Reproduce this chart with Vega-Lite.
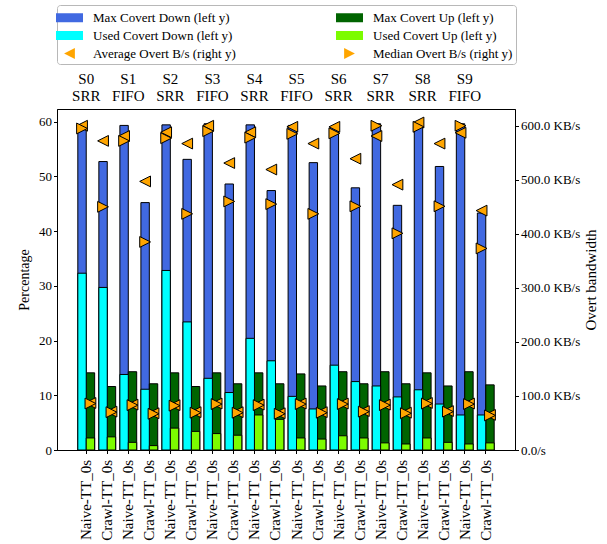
{
  "$schema": "https://vega.github.io/schema/vega-lite/v6.json",
  "width": 458,
  "height": 341,
  "autosize": "none",
  "padding": {"left": 57, "top": 109, "right": 92, "bottom": 94},
  "background": "white",
  "config": {
    "font": "Liberation Serif, Times New Roman, DejaVu Serif, serif",
    "view": {"stroke": "black", "strokeWidth": 1},
    "axis": {"labelFont": "Liberation Serif, Times New Roman, DejaVu Serif, serif", "titleFont": "Liberation Serif, Times New Roman, DejaVu Serif, serif", "labelColor": "black", "titleColor": "black", "domainColor": "black", "tickColor": "black", "titleFontWeight": "normal", "grid": false, "tickSize": 3.5, "labelOverlap": false}
  },
  "datasets": {
    "bars": [
      {"cat": "S0 SRR|Naive-TT_0s", "dir": "Down", "series": "Max Covert Down (left y)", "value": 59.4},
      {"cat": "S0 SRR|Crawl-TT_0s", "dir": "Down", "series": "Max Covert Down (left y)", "value": 52.7},
      {"cat": "S1 FIFO|Naive-TT_0s", "dir": "Down", "series": "Max Covert Down (left y)", "value": 59.3},
      {"cat": "S1 FIFO|Crawl-TT_0s", "dir": "Down", "series": "Max Covert Down (left y)", "value": 45.2},
      {"cat": "S2 SRR|Naive-TT_0s", "dir": "Down", "series": "Max Covert Down (left y)", "value": 59.4},
      {"cat": "S2 SRR|Crawl-TT_0s", "dir": "Down", "series": "Max Covert Down (left y)", "value": 53.1},
      {"cat": "S3 FIFO|Naive-TT_0s", "dir": "Down", "series": "Max Covert Down (left y)", "value": 59.6},
      {"cat": "S3 FIFO|Crawl-TT_0s", "dir": "Down", "series": "Max Covert Down (left y)", "value": 48.6},
      {"cat": "S4 SRR|Naive-TT_0s", "dir": "Down", "series": "Max Covert Down (left y)", "value": 59.4},
      {"cat": "S4 SRR|Crawl-TT_0s", "dir": "Down", "series": "Max Covert Down (left y)", "value": 47.4},
      {"cat": "S5 FIFO|Naive-TT_0s", "dir": "Down", "series": "Max Covert Down (left y)", "value": 59.3},
      {"cat": "S5 FIFO|Crawl-TT_0s", "dir": "Down", "series": "Max Covert Down (left y)", "value": 52.5},
      {"cat": "S6 SRR|Naive-TT_0s", "dir": "Down", "series": "Max Covert Down (left y)", "value": 59.0},
      {"cat": "S6 SRR|Crawl-TT_0s", "dir": "Down", "series": "Max Covert Down (left y)", "value": 47.9},
      {"cat": "S7 SRR|Naive-TT_0s", "dir": "Down", "series": "Max Covert Down (left y)", "value": 59.6},
      {"cat": "S7 SRR|Crawl-TT_0s", "dir": "Down", "series": "Max Covert Down (left y)", "value": 44.7},
      {"cat": "S8 SRR|Naive-TT_0s", "dir": "Down", "series": "Max Covert Down (left y)", "value": 59.8},
      {"cat": "S8 SRR|Crawl-TT_0s", "dir": "Down", "series": "Max Covert Down (left y)", "value": 51.8},
      {"cat": "S9 FIFO|Naive-TT_0s", "dir": "Down", "series": "Max Covert Down (left y)", "value": 59.6},
      {"cat": "S9 FIFO|Crawl-TT_0s", "dir": "Down", "series": "Max Covert Down (left y)", "value": 43.3},
      {"cat": "S0 SRR|Naive-TT_0s", "dir": "Up", "series": "Max Covert Up (left y)", "value": 14.1},
      {"cat": "S0 SRR|Crawl-TT_0s", "dir": "Up", "series": "Max Covert Up (left y)", "value": 11.6},
      {"cat": "S1 FIFO|Naive-TT_0s", "dir": "Up", "series": "Max Covert Up (left y)", "value": 14.3},
      {"cat": "S1 FIFO|Crawl-TT_0s", "dir": "Up", "series": "Max Covert Up (left y)", "value": 12.1},
      {"cat": "S2 SRR|Naive-TT_0s", "dir": "Up", "series": "Max Covert Up (left y)", "value": 14.1},
      {"cat": "S2 SRR|Crawl-TT_0s", "dir": "Up", "series": "Max Covert Up (left y)", "value": 11.6},
      {"cat": "S3 FIFO|Naive-TT_0s", "dir": "Up", "series": "Max Covert Up (left y)", "value": 14.1},
      {"cat": "S3 FIFO|Crawl-TT_0s", "dir": "Up", "series": "Max Covert Up (left y)", "value": 12.1},
      {"cat": "S4 SRR|Naive-TT_0s", "dir": "Up", "series": "Max Covert Up (left y)", "value": 14.1},
      {"cat": "S4 SRR|Crawl-TT_0s", "dir": "Up", "series": "Max Covert Up (left y)", "value": 12.1},
      {"cat": "S5 FIFO|Naive-TT_0s", "dir": "Up", "series": "Max Covert Up (left y)", "value": 13.9},
      {"cat": "S5 FIFO|Crawl-TT_0s", "dir": "Up", "series": "Max Covert Up (left y)", "value": 11.7},
      {"cat": "S6 SRR|Naive-TT_0s", "dir": "Up", "series": "Max Covert Up (left y)", "value": 14.3},
      {"cat": "S6 SRR|Crawl-TT_0s", "dir": "Up", "series": "Max Covert Up (left y)", "value": 12.1},
      {"cat": "S7 SRR|Naive-TT_0s", "dir": "Up", "series": "Max Covert Up (left y)", "value": 14.3},
      {"cat": "S7 SRR|Crawl-TT_0s", "dir": "Up", "series": "Max Covert Up (left y)", "value": 12.1},
      {"cat": "S8 SRR|Naive-TT_0s", "dir": "Up", "series": "Max Covert Up (left y)", "value": 14.1},
      {"cat": "S8 SRR|Crawl-TT_0s", "dir": "Up", "series": "Max Covert Up (left y)", "value": 11.7},
      {"cat": "S9 FIFO|Naive-TT_0s", "dir": "Up", "series": "Max Covert Up (left y)", "value": 14.3},
      {"cat": "S9 FIFO|Crawl-TT_0s", "dir": "Up", "series": "Max Covert Up (left y)", "value": 11.9},
      {"cat": "S0 SRR|Naive-TT_0s", "dir": "Down", "series": "Used Covert Down (left y)", "value": 32.3},
      {"cat": "S0 SRR|Crawl-TT_0s", "dir": "Down", "series": "Used Covert Down (left y)", "value": 29.7},
      {"cat": "S1 FIFO|Naive-TT_0s", "dir": "Down", "series": "Used Covert Down (left y)", "value": 13.8},
      {"cat": "S1 FIFO|Crawl-TT_0s", "dir": "Down", "series": "Used Covert Down (left y)", "value": 11.1},
      {"cat": "S2 SRR|Naive-TT_0s", "dir": "Down", "series": "Used Covert Down (left y)", "value": 32.8},
      {"cat": "S2 SRR|Crawl-TT_0s", "dir": "Down", "series": "Used Covert Down (left y)", "value": 23.4},
      {"cat": "S3 FIFO|Naive-TT_0s", "dir": "Down", "series": "Used Covert Down (left y)", "value": 13.1},
      {"cat": "S3 FIFO|Crawl-TT_0s", "dir": "Down", "series": "Used Covert Down (left y)", "value": 10.5},
      {"cat": "S4 SRR|Naive-TT_0s", "dir": "Down", "series": "Used Covert Down (left y)", "value": 20.4},
      {"cat": "S4 SRR|Crawl-TT_0s", "dir": "Down", "series": "Used Covert Down (left y)", "value": 16.3},
      {"cat": "S5 FIFO|Naive-TT_0s", "dir": "Down", "series": "Used Covert Down (left y)", "value": 9.8},
      {"cat": "S5 FIFO|Crawl-TT_0s", "dir": "Down", "series": "Used Covert Down (left y)", "value": 7.5},
      {"cat": "S6 SRR|Naive-TT_0s", "dir": "Down", "series": "Used Covert Down (left y)", "value": 15.5},
      {"cat": "S6 SRR|Crawl-TT_0s", "dir": "Down", "series": "Used Covert Down (left y)", "value": 12.5},
      {"cat": "S7 SRR|Naive-TT_0s", "dir": "Down", "series": "Used Covert Down (left y)", "value": 11.7},
      {"cat": "S7 SRR|Crawl-TT_0s", "dir": "Down", "series": "Used Covert Down (left y)", "value": 9.7},
      {"cat": "S8 SRR|Naive-TT_0s", "dir": "Down", "series": "Used Covert Down (left y)", "value": 11.0},
      {"cat": "S8 SRR|Crawl-TT_0s", "dir": "Down", "series": "Used Covert Down (left y)", "value": 8.4},
      {"cat": "S9 FIFO|Naive-TT_0s", "dir": "Down", "series": "Used Covert Down (left y)", "value": 6.4},
      {"cat": "S9 FIFO|Crawl-TT_0s", "dir": "Down", "series": "Used Covert Down (left y)", "value": 6.4},
      {"cat": "S0 SRR|Naive-TT_0s", "dir": "Up", "series": "Used Covert Up (left y)", "value": 2.2},
      {"cat": "S0 SRR|Crawl-TT_0s", "dir": "Up", "series": "Used Covert Up (left y)", "value": 2.4},
      {"cat": "S1 FIFO|Naive-TT_0s", "dir": "Up", "series": "Used Covert Up (left y)", "value": 1.4},
      {"cat": "S1 FIFO|Crawl-TT_0s", "dir": "Up", "series": "Used Covert Up (left y)", "value": 0.8},
      {"cat": "S2 SRR|Naive-TT_0s", "dir": "Up", "series": "Used Covert Up (left y)", "value": 4.0},
      {"cat": "S2 SRR|Crawl-TT_0s", "dir": "Up", "series": "Used Covert Up (left y)", "value": 3.4},
      {"cat": "S3 FIFO|Naive-TT_0s", "dir": "Up", "series": "Used Covert Up (left y)", "value": 3.0},
      {"cat": "S3 FIFO|Crawl-TT_0s", "dir": "Up", "series": "Used Covert Up (left y)", "value": 2.7},
      {"cat": "S4 SRR|Naive-TT_0s", "dir": "Up", "series": "Used Covert Up (left y)", "value": 6.4},
      {"cat": "S4 SRR|Crawl-TT_0s", "dir": "Up", "series": "Used Covert Up (left y)", "value": 5.6},
      {"cat": "S5 FIFO|Naive-TT_0s", "dir": "Up", "series": "Used Covert Up (left y)", "value": 2.2},
      {"cat": "S5 FIFO|Crawl-TT_0s", "dir": "Up", "series": "Used Covert Up (left y)", "value": 2.0},
      {"cat": "S6 SRR|Naive-TT_0s", "dir": "Up", "series": "Used Covert Up (left y)", "value": 2.6},
      {"cat": "S6 SRR|Crawl-TT_0s", "dir": "Up", "series": "Used Covert Up (left y)", "value": 2.2},
      {"cat": "S7 SRR|Naive-TT_0s", "dir": "Up", "series": "Used Covert Up (left y)", "value": 1.3},
      {"cat": "S7 SRR|Crawl-TT_0s", "dir": "Up", "series": "Used Covert Up (left y)", "value": 1.1},
      {"cat": "S8 SRR|Naive-TT_0s", "dir": "Up", "series": "Used Covert Up (left y)", "value": 2.2},
      {"cat": "S8 SRR|Crawl-TT_0s", "dir": "Up", "series": "Used Covert Up (left y)", "value": 1.4},
      {"cat": "S9 FIFO|Naive-TT_0s", "dir": "Up", "series": "Used Covert Up (left y)", "value": 1.1},
      {"cat": "S9 FIFO|Crawl-TT_0s", "dir": "Up", "series": "Used Covert Up (left y)", "value": 1.3}
    ],
    "markers": [
      {"cat": "S0 SRR|Naive-TT_0s", "dir": "Down", "series": "Average Overt B/s (right y)", "value": 600},
      {"cat": "S0 SRR|Crawl-TT_0s", "dir": "Down", "series": "Average Overt B/s (right y)", "value": 572},
      {"cat": "S1 FIFO|Naive-TT_0s", "dir": "Down", "series": "Average Overt B/s (right y)", "value": 581},
      {"cat": "S1 FIFO|Crawl-TT_0s", "dir": "Down", "series": "Average Overt B/s (right y)", "value": 497},
      {"cat": "S2 SRR|Naive-TT_0s", "dir": "Down", "series": "Average Overt B/s (right y)", "value": 588},
      {"cat": "S2 SRR|Crawl-TT_0s", "dir": "Down", "series": "Average Overt B/s (right y)", "value": 567},
      {"cat": "S3 FIFO|Naive-TT_0s", "dir": "Down", "series": "Average Overt B/s (right y)", "value": 600},
      {"cat": "S3 FIFO|Crawl-TT_0s", "dir": "Down", "series": "Average Overt B/s (right y)", "value": 531},
      {"cat": "S4 SRR|Naive-TT_0s", "dir": "Down", "series": "Average Overt B/s (right y)", "value": 588},
      {"cat": "S4 SRR|Crawl-TT_0s", "dir": "Down", "series": "Average Overt B/s (right y)", "value": 519},
      {"cat": "S5 FIFO|Naive-TT_0s", "dir": "Down", "series": "Average Overt B/s (right y)", "value": 598},
      {"cat": "S5 FIFO|Crawl-TT_0s", "dir": "Down", "series": "Average Overt B/s (right y)", "value": 567},
      {"cat": "S6 SRR|Naive-TT_0s", "dir": "Down", "series": "Average Overt B/s (right y)", "value": 598},
      {"cat": "S6 SRR|Crawl-TT_0s", "dir": "Down", "series": "Average Overt B/s (right y)", "value": 539},
      {"cat": "S7 SRR|Naive-TT_0s", "dir": "Down", "series": "Average Overt B/s (right y)", "value": 581},
      {"cat": "S7 SRR|Crawl-TT_0s", "dir": "Down", "series": "Average Overt B/s (right y)", "value": 491},
      {"cat": "S8 SRR|Naive-TT_0s", "dir": "Down", "series": "Average Overt B/s (right y)", "value": 606},
      {"cat": "S8 SRR|Crawl-TT_0s", "dir": "Down", "series": "Average Overt B/s (right y)", "value": 567},
      {"cat": "S9 FIFO|Naive-TT_0s", "dir": "Down", "series": "Average Overt B/s (right y)", "value": 587},
      {"cat": "S9 FIFO|Crawl-TT_0s", "dir": "Down", "series": "Average Overt B/s (right y)", "value": 443},
      {"cat": "S0 SRR|Naive-TT_0s", "dir": "Up", "series": "Average Overt B/s (right y)", "value": 87},
      {"cat": "S0 SRR|Crawl-TT_0s", "dir": "Up", "series": "Average Overt B/s (right y)", "value": 71},
      {"cat": "S1 FIFO|Naive-TT_0s", "dir": "Up", "series": "Average Overt B/s (right y)", "value": 84},
      {"cat": "S1 FIFO|Crawl-TT_0s", "dir": "Up", "series": "Average Overt B/s (right y)", "value": 68},
      {"cat": "S2 SRR|Naive-TT_0s", "dir": "Up", "series": "Average Overt B/s (right y)", "value": 83},
      {"cat": "S2 SRR|Crawl-TT_0s", "dir": "Up", "series": "Average Overt B/s (right y)", "value": 70},
      {"cat": "S3 FIFO|Naive-TT_0s", "dir": "Up", "series": "Average Overt B/s (right y)", "value": 86},
      {"cat": "S3 FIFO|Crawl-TT_0s", "dir": "Up", "series": "Average Overt B/s (right y)", "value": 70},
      {"cat": "S4 SRR|Naive-TT_0s", "dir": "Up", "series": "Average Overt B/s (right y)", "value": 84},
      {"cat": "S4 SRR|Crawl-TT_0s", "dir": "Up", "series": "Average Overt B/s (right y)", "value": 68},
      {"cat": "S5 FIFO|Naive-TT_0s", "dir": "Up", "series": "Average Overt B/s (right y)", "value": 86},
      {"cat": "S5 FIFO|Crawl-TT_0s", "dir": "Up", "series": "Average Overt B/s (right y)", "value": 70},
      {"cat": "S6 SRR|Naive-TT_0s", "dir": "Up", "series": "Average Overt B/s (right y)", "value": 86},
      {"cat": "S6 SRR|Crawl-TT_0s", "dir": "Up", "series": "Average Overt B/s (right y)", "value": 72},
      {"cat": "S7 SRR|Naive-TT_0s", "dir": "Up", "series": "Average Overt B/s (right y)", "value": 84},
      {"cat": "S7 SRR|Crawl-TT_0s", "dir": "Up", "series": "Average Overt B/s (right y)", "value": 69},
      {"cat": "S8 SRR|Naive-TT_0s", "dir": "Up", "series": "Average Overt B/s (right y)", "value": 87},
      {"cat": "S8 SRR|Crawl-TT_0s", "dir": "Up", "series": "Average Overt B/s (right y)", "value": 72},
      {"cat": "S9 FIFO|Naive-TT_0s", "dir": "Up", "series": "Average Overt B/s (right y)", "value": 86},
      {"cat": "S9 FIFO|Crawl-TT_0s", "dir": "Up", "series": "Average Overt B/s (right y)", "value": 65},
      {"cat": "S0 SRR|Naive-TT_0s", "dir": "Down", "series": "Median Overt B/s (right y)", "value": 595},
      {"cat": "S0 SRR|Crawl-TT_0s", "dir": "Down", "series": "Median Overt B/s (right y)", "value": 450},
      {"cat": "S1 FIFO|Naive-TT_0s", "dir": "Down", "series": "Median Overt B/s (right y)", "value": 572},
      {"cat": "S1 FIFO|Crawl-TT_0s", "dir": "Down", "series": "Median Overt B/s (right y)", "value": 385},
      {"cat": "S2 SRR|Naive-TT_0s", "dir": "Down", "series": "Median Overt B/s (right y)", "value": 577},
      {"cat": "S2 SRR|Crawl-TT_0s", "dir": "Down", "series": "Median Overt B/s (right y)", "value": 437},
      {"cat": "S3 FIFO|Naive-TT_0s", "dir": "Down", "series": "Median Overt B/s (right y)", "value": 590},
      {"cat": "S3 FIFO|Crawl-TT_0s", "dir": "Down", "series": "Median Overt B/s (right y)", "value": 460},
      {"cat": "S4 SRR|Naive-TT_0s", "dir": "Down", "series": "Median Overt B/s (right y)", "value": 578},
      {"cat": "S4 SRR|Crawl-TT_0s", "dir": "Down", "series": "Median Overt B/s (right y)", "value": 455},
      {"cat": "S5 FIFO|Naive-TT_0s", "dir": "Down", "series": "Median Overt B/s (right y)", "value": 585},
      {"cat": "S5 FIFO|Crawl-TT_0s", "dir": "Down", "series": "Median Overt B/s (right y)", "value": 437},
      {"cat": "S6 SRR|Naive-TT_0s", "dir": "Down", "series": "Median Overt B/s (right y)", "value": 586},
      {"cat": "S6 SRR|Crawl-TT_0s", "dir": "Down", "series": "Median Overt B/s (right y)", "value": 451},
      {"cat": "S7 SRR|Naive-TT_0s", "dir": "Down", "series": "Median Overt B/s (right y)", "value": 600},
      {"cat": "S7 SRR|Crawl-TT_0s", "dir": "Down", "series": "Median Overt B/s (right y)", "value": 401},
      {"cat": "S8 SRR|Naive-TT_0s", "dir": "Down", "series": "Median Overt B/s (right y)", "value": 598},
      {"cat": "S8 SRR|Crawl-TT_0s", "dir": "Down", "series": "Median Overt B/s (right y)", "value": 451},
      {"cat": "S9 FIFO|Naive-TT_0s", "dir": "Down", "series": "Median Overt B/s (right y)", "value": 600},
      {"cat": "S9 FIFO|Crawl-TT_0s", "dir": "Down", "series": "Median Overt B/s (right y)", "value": 373},
      {"cat": "S0 SRR|Naive-TT_0s", "dir": "Up", "series": "Median Overt B/s (right y)", "value": 86},
      {"cat": "S0 SRR|Crawl-TT_0s", "dir": "Up", "series": "Median Overt B/s (right y)", "value": 70},
      {"cat": "S1 FIFO|Naive-TT_0s", "dir": "Up", "series": "Median Overt B/s (right y)", "value": 83},
      {"cat": "S1 FIFO|Crawl-TT_0s", "dir": "Up", "series": "Median Overt B/s (right y)", "value": 67},
      {"cat": "S2 SRR|Naive-TT_0s", "dir": "Up", "series": "Median Overt B/s (right y)", "value": 82},
      {"cat": "S2 SRR|Crawl-TT_0s", "dir": "Up", "series": "Median Overt B/s (right y)", "value": 69},
      {"cat": "S3 FIFO|Naive-TT_0s", "dir": "Up", "series": "Median Overt B/s (right y)", "value": 85},
      {"cat": "S3 FIFO|Crawl-TT_0s", "dir": "Up", "series": "Median Overt B/s (right y)", "value": 69},
      {"cat": "S4 SRR|Naive-TT_0s", "dir": "Up", "series": "Median Overt B/s (right y)", "value": 83},
      {"cat": "S4 SRR|Crawl-TT_0s", "dir": "Up", "series": "Median Overt B/s (right y)", "value": 67},
      {"cat": "S5 FIFO|Naive-TT_0s", "dir": "Up", "series": "Median Overt B/s (right y)", "value": 85},
      {"cat": "S5 FIFO|Crawl-TT_0s", "dir": "Up", "series": "Median Overt B/s (right y)", "value": 69},
      {"cat": "S6 SRR|Naive-TT_0s", "dir": "Up", "series": "Median Overt B/s (right y)", "value": 85},
      {"cat": "S6 SRR|Crawl-TT_0s", "dir": "Up", "series": "Median Overt B/s (right y)", "value": 71},
      {"cat": "S7 SRR|Naive-TT_0s", "dir": "Up", "series": "Median Overt B/s (right y)", "value": 83},
      {"cat": "S7 SRR|Crawl-TT_0s", "dir": "Up", "series": "Median Overt B/s (right y)", "value": 68},
      {"cat": "S8 SRR|Naive-TT_0s", "dir": "Up", "series": "Median Overt B/s (right y)", "value": 86},
      {"cat": "S8 SRR|Crawl-TT_0s", "dir": "Up", "series": "Median Overt B/s (right y)", "value": 71},
      {"cat": "S9 FIFO|Naive-TT_0s", "dir": "Up", "series": "Median Overt B/s (right y)", "value": 85},
      {"cat": "S9 FIFO|Crawl-TT_0s", "dir": "Up", "series": "Median Overt B/s (right y)", "value": 64}
    ]
  },
  "resolve": {"scale": {"y": "independent"}, "axis": {"x": "independent"}},
  "layer": [
    {
      "data": {"name": "bars"},
      "mark": {"type": "bar", "stroke": "black", "strokeWidth": 1},
      "encoding": {
        "x": {
          "field": "cat", "type": "nominal",
          "scale": {"type": "band", "paddingInner": 0.2, "paddingOuter": 0.99,
            "domain": ["S0 SRR|Naive-TT_0s", "S0 SRR|Crawl-TT_0s", "S1 FIFO|Naive-TT_0s", "S1 FIFO|Crawl-TT_0s", "S2 SRR|Naive-TT_0s", "S2 SRR|Crawl-TT_0s", "S3 FIFO|Naive-TT_0s", "S3 FIFO|Crawl-TT_0s", "S4 SRR|Naive-TT_0s", "S4 SRR|Crawl-TT_0s", "S5 FIFO|Naive-TT_0s", "S5 FIFO|Crawl-TT_0s", "S6 SRR|Naive-TT_0s", "S6 SRR|Crawl-TT_0s", "S7 SRR|Naive-TT_0s", "S7 SRR|Crawl-TT_0s", "S8 SRR|Naive-TT_0s", "S8 SRR|Crawl-TT_0s", "S9 FIFO|Naive-TT_0s", "S9 FIFO|Crawl-TT_0s"]},
          "axis": {"orient": "bottom", "title": null, "labelExpr": "split(datum.label, '|')[1]", "labelAngle": 270, "labelFontSize": 15, "labelPadding": 6}
        },
        "xOffset": {"field": "dir", "type": "nominal", "scale": {"domain": ["Down", "Up"], "paddingInner": 0, "paddingOuter": 0}},
        "y": {
          "field": "value", "type": "quantitative", "stack": null,
          "scale": {"domain": [0, 62.3], "nice": false},
          "axis": {"orient": "left", "title": "Percentage", "values": [0, 10, 20, 30, 40, 50, 60], "labelFontSize": 13, "titleFontSize": 14, "titlePadding": 7}
        },
        "color": {
          "field": "series", "type": "nominal",
          "scale": {
            "domain": ["Max Covert Down (left y)", "Used Covert Down (left y)", "Average Overt B/s (right y)", "Max Covert Up (left y)", "Used Covert Up (left y)", "Median Overt B/s (right y)"],
            "range": ["#4169e1", "#00ffff", "#ffa500", "#006400", "#7cfc00", "#ffa500"]
          },
          "legend": {"title": null, "orient": "none", "legendX": 0, "legendY": -104, "columns": 2, "columnPadding": 98, "rowPadding": 1, "padding": 3, "strokeColor": "#b8b8b8", "cornerRadius": 3, "fillColor": "white", "labelFont": "Liberation Serif, Times New Roman, DejaVu Serif, serif", "labelFontSize": 13, "labelColor": "black", "labelOffset": 14, "labelLimit": 0, "symbolSize": 324, "symbolStrokeColor": "black", "symbolStrokeWidth": 1, "symbolOpacity": 1}
        }
      }
    },
    {
      "data": {"name": "markers"},
      "mark": {"type": "point", "filled": true, "opacity": 1, "stroke": "black", "strokeWidth": 1, "size": 324},
      "encoding": {
        "x": {
          "field": "cat", "type": "nominal",
          "axis": {"orient": "top", "title": null, "values": ["S0 SRR|Naive-TT_0s", "S1 FIFO|Naive-TT_0s", "S2 SRR|Naive-TT_0s", "S3 FIFO|Naive-TT_0s", "S4 SRR|Naive-TT_0s", "S5 FIFO|Naive-TT_0s", "S6 SRR|Naive-TT_0s", "S7 SRR|Naive-TT_0s", "S8 SRR|Naive-TT_0s", "S9 FIFO|Naive-TT_0s"], "labelExpr": "split(split(datum.label, '|')[0], ' ')", "labelAngle": 0, "labelDx": 10.5, "ticks": false, "domain": false, "labelFontSize": 15, "labelLineHeight": 17, "labelPadding": 23}
        },
        "xOffset": {"field": "dir", "type": "nominal"},
        "y": {
          "field": "value", "type": "quantitative",
          "scale": {"domain": [0, 631], "nice": false},
          "axis": {"orient": "right", "title": "Overt bandwidth", "values": [0, 100, 200, 300, 400, 500, 600], "labelExpr": "datum.value == 0 ? '0.0/s' : format(datum.value, '.1f') + ' KB/s'", "labelFontSize": 13, "titleFontSize": 15, "titleAngle": 270, "titleBaseline": "top", "titlePadding": 4}
        },
        "color": {"field": "series", "type": "nominal", "legend": {"title": null, "orient": "none", "legendX": 0, "legendY": -104, "columns": 2, "columnPadding": 98, "rowPadding": 1, "padding": 3, "strokeColor": "#b8b8b8", "cornerRadius": 3, "fillColor": "white", "labelFont": "Liberation Serif, Times New Roman, DejaVu Serif, serif", "labelFontSize": 13, "labelColor": "black", "labelOffset": 14, "labelLimit": 0, "symbolSize": 324, "symbolStrokeColor": "black", "symbolStrokeWidth": 1, "symbolOpacity": 1}},
        "shape": {
          "field": "series", "type": "nominal",
          "scale": {
            "domain": ["Max Covert Down (left y)", "Used Covert Down (left y)", "Average Overt B/s (right y)", "Max Covert Up (left y)", "Used Covert Up (left y)", "Median Overt B/s (right y)"],
            "range": ["M-1.5,-0.5H1.5V0.5H-1.5Z", "M-1.5,-0.5H1.5V0.5H-1.5Z", "M-0.6,0L0.6,-0.6L0.6,0.6Z", "M-1.5,-0.5H1.5V0.5H-1.5Z", "M-1.5,-0.5H1.5V0.5H-1.5Z", "M0.6,0L-0.6,-0.6L-0.6,0.6Z"]
          },
          "legend": {"title": null, "orient": "none", "legendX": 0, "legendY": -104, "columns": 2, "columnPadding": 98, "rowPadding": 1, "padding": 3, "strokeColor": "#b8b8b8", "cornerRadius": 3, "fillColor": "white", "labelFont": "Liberation Serif, Times New Roman, DejaVu Serif, serif", "labelFontSize": 13, "labelColor": "black", "labelOffset": 14, "labelLimit": 0, "symbolSize": 324, "symbolStrokeColor": "black", "symbolStrokeWidth": 1, "symbolOpacity": 1}
        }
      }
    }
  ]
}
